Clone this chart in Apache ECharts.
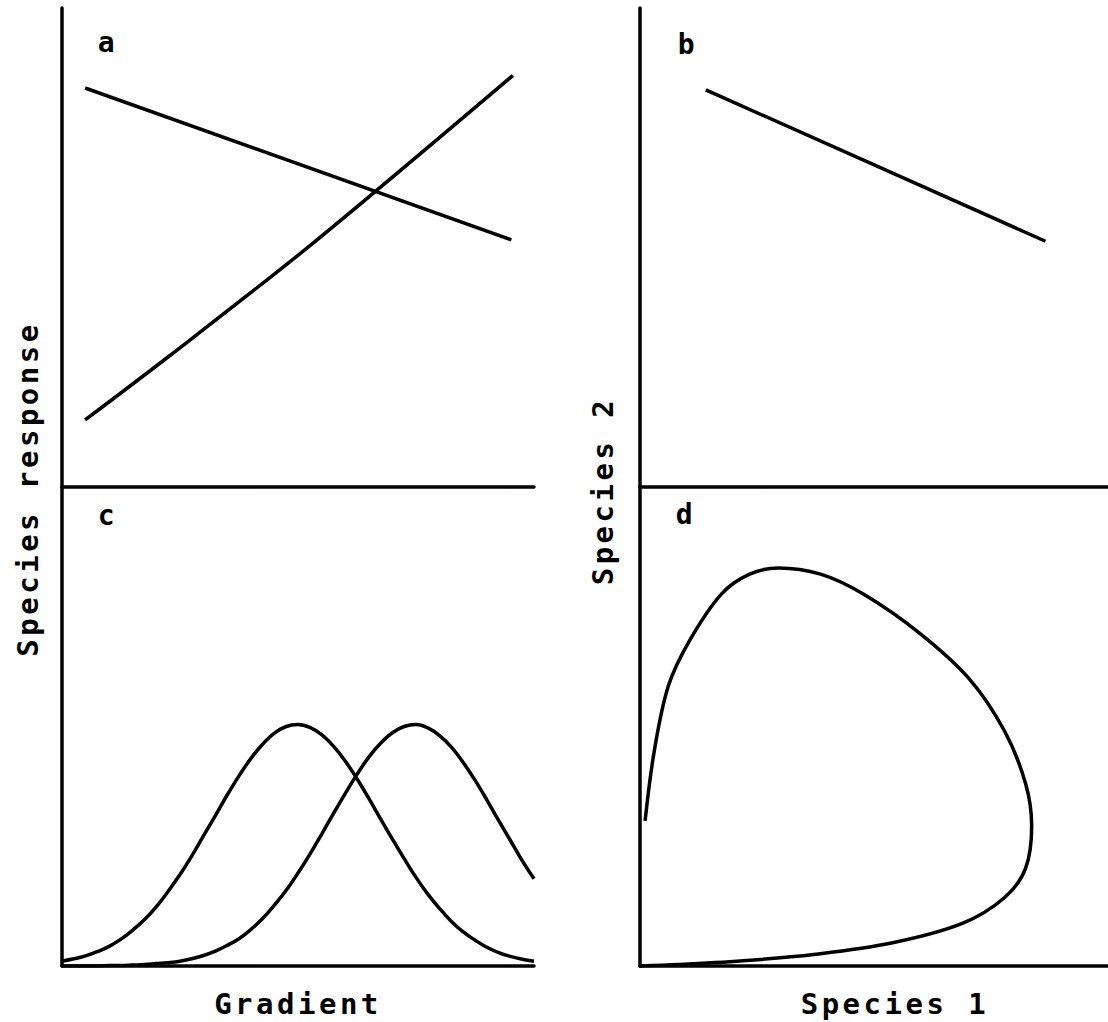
<!DOCTYPE html>
<html>
<head>
<meta charset="utf-8">
<title>Species response along a gradient</title>
<script src="https://cdn.jsdelivr.net/npm/echarts@6/dist/echarts.min.js"></script>
<style>
  html, body { margin: 0; padding: 0; background: #fff; }
  #chart { width: 1108px; height: 1022px; }
  /* wide, plotter-like lettering */
  #chart text { letter-spacing: 3.5px; }
</style>
</head>
<body>
<div id="chart"></div>
<script>
// Panel a: linear responses of two species along the gradient
const lineA1 = [[4.9, 83.3], [95.2, 51.6]];
const lineA2 = [[4.9, 14.0], [22.8, 27.4], [52.8, 50.6], [95.5, 85.9]];

// Panel b: species 2 against species 1 for the linear case
const lineB = [[12.9, 82.9], [79.5, 51.3]];

// Panel c: unimodal responses sampled along the gradient
const gradientX = [
  0, 2.5, 5, 7.5, 10, 12.5, 15, 17.5, 20, 22.5, 25, 27.5, 30, 32.5, 35, 37.5, 40, 42.5, 45, 47.5,
  50, 52.5, 55, 57.5, 60, 62.5, 65, 67.5, 70, 72.5, 75, 77.5, 80, 82.5, 85, 87.5, 90, 92.5, 95, 97.5, 100
];
const speciesOneC = [
  1.0, 1.5, 2.1, 3.0, 4.1, 5.6, 7.5, 9.7, 12.4, 15.6, 19.1, 23.0, 27.2, 31.4, 35.7, 39.7, 43.3, 46.3, 48.6, 50.0,
  50.4, 49.8, 48.3, 45.9, 42.8, 39.1, 35.0, 30.7, 26.5, 22.4, 18.5, 15.0, 12.0, 9.3, 7.1, 5.4, 3.9, 2.8, 2.0, 1.4, 1.0
];
const speciesTwoC = [
  0.0, 0.0, 0.0, 0.0, 0.1, 0.1, 0.2, 0.3, 0.5, 0.7, 1.0, 1.5, 2.2, 3.1, 4.3, 5.7, 7.6, 9.9, 12.7, 15.8,
  19.4, 23.3, 27.5, 31.8, 36.0, 40.0, 43.6, 46.5, 48.7, 50.0, 50.4, 49.7, 48.1, 45.7, 42.5, 38.8, 34.7, 30.4, 26.2, 22.0, 18.2
];

// Panel d: species 2 against species 1 for the unimodal case (traced in gradient order)
const loopD = [
  [0, 0], [7.7, 0.3], [20.2, 1.1], [34.0, 2.4], [49.3, 4.8], [63.2, 8.9], [71.5, 14.3],
  [75.6, 20.4], [76.8, 29.3], [75.6, 38.1], [71.5, 49.0], [64.6, 59.9], [54.8, 69.5],
  [43.7, 77.7], [35.4, 81.8], [27.1, 83.1], [21.5, 81.8], [16.0, 77.7], [9.8, 68.1],
  [5.6, 58.6], [2.8, 44.9], [1.0, 30.3]
];

const panelLetters = ['a', 'b', 'c', 'd'];
const axisTitles = { left: 'Species response', right: 'Species 2', bottomLeft: 'Gradient', bottomRight: 'Species 1' };

const FONT = 'DejaVu Sans Mono';
const INK = '#000';

const axisLine = { show: true, onZero: false, lineStyle: { color: INK, width: 3.5 } };
const titleStyle = { fontFamily: FONT, fontWeight: 'bold', fontSize: 29, color: INK };

function xAxis(gridIndex, name) {
  return {
    type: 'value', gridIndex, min: 0, max: 100,
    axisLine, axisTick: { show: false }, axisLabel: { show: false }, splitLine: { show: false },
    name: name || '', nameLocation: 'middle', nameGap: 23, nameTextStyle: titleStyle
  };
}
function yAxis(gridIndex) {
  return {
    type: 'value', gridIndex, min: 0, max: 100,
    axisLine, axisTick: { show: false }, axisLabel: { show: false }, splitLine: { show: false }
  };
}
function curve(idx, data, smooth) {
  return {
    type: 'line', xAxisIndex: idx, yAxisIndex: idx, data,
    symbol: 'none', smooth: smooth || false, silent: true,
    lineStyle: { color: INK, width: 3.5 }
  };
}
function letter(text, x, y) {
  return {
    type: 'text', x, y, silent: true,
    style: { text, fontFamily: FONT, fontWeight: 'bold', fontSize: 28, fill: INK, align: 'center', verticalAlign: 'middle' }
  };
}
function vertTitle(text, x, y) {
  return {
    type: 'text', x, y, rotation: Math.PI / 2, silent: true,
    style: { text, fontFamily: FONT, fontWeight: 'bold', fontSize: 29, fill: INK, align: 'center', verticalAlign: 'middle' }
  };
}
function panel(left, top, width) {
  // right-hand panels run past the page edge, so bounds must not be clamped
  return { left, top, width, height: 479, outerBoundsMode: 'none', containLabel: false };
}

const chart = echarts.init(document.getElementById('chart'), null, { renderer: 'svg' });
chart.setOption({
  animation: false,
  backgroundColor: '#fff',
  grid: [
    panel(62, 8, 472),
    panel(640, 8, 510),
    panel(62, 487, 472),
    panel(640, 487, 510)
  ],
  xAxis: [xAxis(0), xAxis(1), xAxis(2, axisTitles.bottomLeft), xAxis(3, axisTitles.bottomRight)],
  yAxis: [yAxis(0), yAxis(1), yAxis(2), yAxis(3)],
  series: [
    curve(0, lineA1),
    curve(0, lineA2, 0.3),
    curve(1, lineB),
    curve(2, gradientX.map((x, i) => [x, speciesOneC[i]]), 0.4),
    curve(2, gradientX.map((x, i) => [x, speciesTwoC[i]]), 0.4),
    curve(3, loopD, 0.35)
  ],
  graphic: [
    letter(panelLetters[0], 108, 42),
    letter(panelLetters[1], 688, 44),
    letter(panelLetters[2], 108, 515),
    letter(panelLetters[3], 686, 514),
    vertTitle(axisTitles.left, 28, 489),
    vertTitle(axisTitles.right, 603, 491)
  ]
});
</script>
</body>
</html>
